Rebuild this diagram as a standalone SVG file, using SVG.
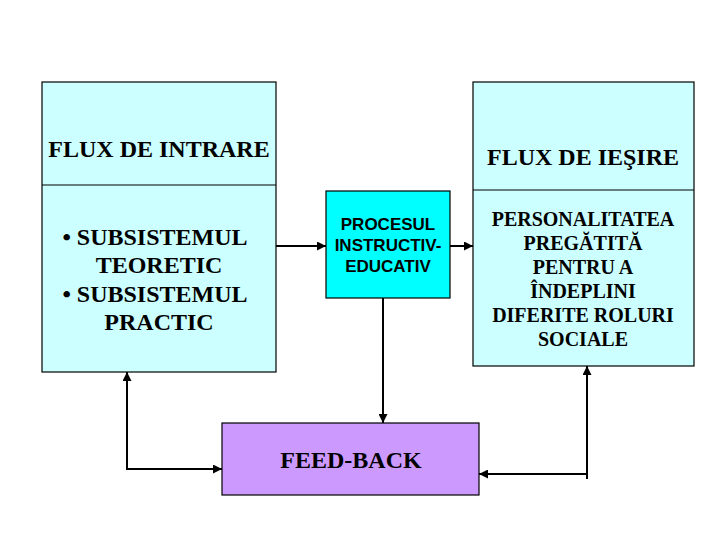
<svg xmlns="http://www.w3.org/2000/svg" width="720" height="540" viewBox="0 0 720 540">
<defs>
<marker id="ah" viewBox="0 0 10 10" refX="10" refY="5" markerWidth="4.5" markerHeight="4.5" orient="auto-start-reverse" markerUnits="strokeWidth">
<path d="M0,0 L10,5 L0,10 z" fill="#000"/>
</marker>
<style>
.box{stroke:#000;stroke-width:1.2}
.serif{font-family:"Liberation Serif","Times New Roman",serif;font-weight:bold;fill:#000;text-anchor:middle}
.sans{font-family:"Liberation Sans",Arial,sans-serif;font-weight:bold;fill:#000;text-anchor:middle}
.con{fill:none;stroke:#000;stroke-width:2}
</style>
</defs>
<rect width="720" height="540" fill="#fff"/>
<g id="flux-intrare">
<rect class="box" x="42" y="82" width="234" height="290" fill="#CCFFFF"/>
<line x1="42" y1="185" x2="276" y2="185" stroke="#000" stroke-width="1.2"/>
<text class="serif" x="159" y="157" font-size="24">FLUX DE INTRARE</text>
<text class="serif" x="155" y="245" font-size="24">• SUBSISTEMUL</text>
<text class="serif" x="159" y="273" font-size="24">TEORETIC</text>
<text class="serif" x="155" y="302" font-size="24">• SUBSISTEMUL</text>
<text class="serif" x="159" y="330" font-size="24">PRACTIC</text>
</g>
<g id="procesul">
<rect class="box" x="326" y="191" width="124" height="107" fill="#00FFFF"/>
<text class="sans" x="388" y="230" font-size="17">PROCESUL</text>
<text class="sans" x="388" y="251" font-size="17">INSTRUCTIV-</text>
<text class="sans" x="388" y="272" font-size="17">EDUCATIV</text>
</g>
<g id="flux-iesire">
<rect class="box" x="473" y="82" width="221" height="284" fill="#CCFFFF"/>
<line x1="473" y1="190" x2="694" y2="190" stroke="#000" stroke-width="1.2"/>
<text class="serif" x="583" y="165" font-size="24">FLUX DE IEŞIRE</text>
<text class="serif" x="583" y="226" font-size="20">PERSONALITATEA</text>
<text class="serif" x="583" y="250" font-size="20">PREGĂTITĂ</text>
<text class="serif" x="583" y="274" font-size="20">PENTRU A</text>
<text class="serif" x="583" y="298" font-size="20">ÎNDEPLINI</text>
<text class="serif" x="583" y="322" font-size="20">DIFERITE ROLURI</text>
<text class="serif" x="583" y="346" font-size="20">SOCIALE</text>
</g>
<g id="feed-back">
<rect class="box" x="222" y="423" width="257" height="72" fill="#CC99FF"/>
<text class="serif" x="351" y="468" font-size="24">FEED-BACK</text>
</g>
<g id="connectors">
<line class="con" x1="276" y1="246" x2="326" y2="246" marker-end="url(#ah)"/>
<line class="con" x1="450" y1="246" x2="473" y2="246" marker-end="url(#ah)"/>
<line class="con" x1="383" y1="298" x2="383" y2="423" marker-end="url(#ah)"/>
<path class="con" d="M127,372 V469 H222" marker-start="url(#ah)" marker-end="url(#ah)"/>
<line class="con" x1="587" y1="479" x2="587" y2="366" marker-end="url(#ah)"/>
<line class="con" x1="587" y1="474" x2="479" y2="474" marker-end="url(#ah)"/>
</g>
</svg>
